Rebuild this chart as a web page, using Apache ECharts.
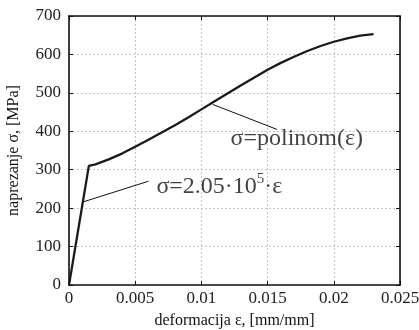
<!DOCTYPE html>
<html>
<head>
<meta charset="utf-8">
<script src="https://cdn.jsdelivr.net/npm/echarts@6/dist/echarts.min.js"></script>
<style>
  html, body { margin: 0; padding: 0; background: #fff; }
  #chart { width: 419px; height: 330px; }
</style>
</head>
<body>
<div id="chart"></div>
<script>
// strain [mm/mm] and stress [MPa]
const strain = [0, 0.0015, 0.002, 0.003, 0.004, 0.005, 0.006, 0.007, 0.008, 0.009,
  0.010, 0.011, 0.012, 0.013, 0.014, 0.015, 0.016, 0.017, 0.018, 0.019,
  0.020, 0.021, 0.022, 0.023]
const stress = [0, 310, 314, 327, 342, 360, 378, 397, 416, 436,
  457, 478, 499, 520, 540, 560, 578, 594, 609, 622,
  633, 642, 649, 653]

// leader lines from curve to annotation text
const elasticLeader = [[0.00105, 216], [0.0060, 270]]
const polyLeader = [[0.01085, 470], [0.0157, 405]]

// where the annotation text starts
const elasticLabelAt = [0.0066, 256]
const polyLabelAt = [0.0122, 380]

const xTicks = { min: 0, max: 0.025, interval: 0.005 }
const yTicks = { min: 0, max: 700, interval: 100 }

const font = "'Liberation Serif', 'Times New Roman', serif"
const ink = "#111"
const grid = { lineStyle: { color: "#c4c4c4", type: [2, 2], width: 1 } }

const chart = echarts.init(document.getElementById("chart"))

const frameAxis = {
  type: "value",
  axisLine: { show: true, onZero: false, lineStyle: { color: ink, width: 1.6 } },
  axisTick: { show: true, inside: true, length: 4, lineStyle: { color: ink } },
}

chart.setOption({
  animation: false,
  textStyle: { fontFamily: font, color: ink },
  grid: { left: 69, right: 19, top: 16, bottom: 45, outerBoundsMode: "none" },
  xAxis: [
    {
      ...frameAxis,
      ...xTicks,
      name: "deformacija ε, [mm/mm]",
      nameLocation: "middle",
      nameGap: 28,
      nameTextStyle: { fontFamily: font, fontSize: 16, color: ink },
      axisLabel: { fontFamily: font, fontSize: 17, color: "#222", margin: 5 },
      splitLine: { show: true, ...grid },
    },
    {
      ...frameAxis,
      ...xTicks,
      position: "top",
      axisLabel: { show: false },
      splitLine: { show: false },
    },
  ],
  yAxis: [
    {
      ...frameAxis,
      ...yTicks,
      name: "naprezanje σ, [MPa]",
      nameLocation: "middle",
      nameGap: 47,
      nameTextStyle: { fontFamily: font, fontSize: 16, color: ink },
      axisLabel: { fontFamily: font, fontSize: 17, color: "#222", margin: 8 },
      splitLine: { show: true, ...grid },
    },
    {
      ...frameAxis,
      ...yTicks,
      position: "right",
      axisLabel: { show: false },
      splitLine: { show: false },
    },
  ],
  series: [
    {
      type: "line",
      data: strain.map((e, i) => [e, stress[i]]),
      showSymbol: false,
      lineStyle: { color: "#1a1a1a", width: 2.3 },
      z: 5,
    },
    {
      type: "line",
      data: elasticLeader,
      showSymbol: false,
      lineStyle: { color: ink, width: 1 },
    },
    {
      type: "line",
      data: polyLeader,
      showSymbol: false,
      lineStyle: { color: ink, width: 1 },
    },
    {
      type: "scatter",
      symbolSize: 0,
      data: [
        { value: elasticLabelAt, name: "elastic" },
        { value: polyLabelAt, name: "poly" },
      ],
      label: {
        show: true,
        position: "right",
        distance: 0,
        formatter: (p) =>
          p.name === "elastic"
            ? "{a|σ=2.05·10}{s|5}{a|·ε}"
            : "{a|σ=polinom(ε)}",
        rich: {
          a: { fontFamily: font, fontSize: 24, color: ink },
          s: { fontFamily: font, fontSize: 15, color: ink, verticalAlign: "top", lineHeight: 30 },
        },
      },
    },
  ],
})
</script>
</body>
</html>
